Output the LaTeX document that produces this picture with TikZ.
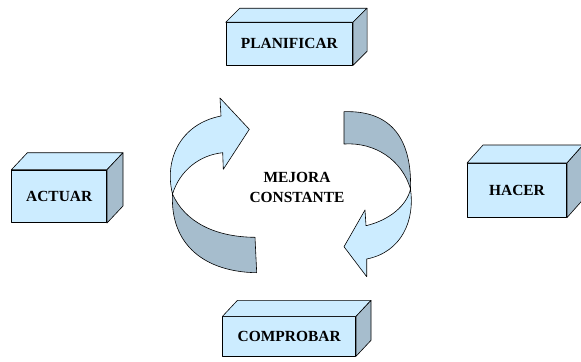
\documentclass[tikz,border=0pt]{standalone}
\usepackage{fontspec}
\setmainfont{Liberation Serif}
\usetikzlibrary{calc}
\definecolor{lightb}{HTML}{CCECFF}
\definecolor{darkb}{HTML}{A6BDCD}
\newcommand\cubefaces[3]{%
  \draw[topface] (#1.north west) -- ++(#2,#3) -- ($(#1.north east)+(#2,#3)$) -- (#1.north east) -- cycle;
  \draw[sideface] (#1.north east) -- ++(#2,#3) -- ($(#1.south east)+(#2,#3)$) -- (#1.south east) -- cycle;}
\begin{document}
\begin{tikzpicture}[x=1bp,y=-1bp, line width=0.6pt, line join=round,
  txt/.style={font=\fontsize{15.5}{19.6}\selectfont\bfseries},
  box/.style={draw, fill=lightb, inner sep=0pt, txt},
  topface/.style={draw, fill=lightb},
  sideface/.style={draw, fill=darkb},
  ribbonlight/.style={draw, fill=lightb},
  ribbondark/.style={draw, fill=darkb}]
\useasboundingbox (0,0) rectangle (581,361);

% boxes
\node[box, minimum width=126.7bp, minimum height=42.5bp] (plan) at (289.4,43.75) {PLANIFICAR};
\cubefaces{plan}{14}{-14}
\node[box, minimum width=95bp, minimum height=52.7bp] (act) at (59.2,196.35) {ACTUAR};
\cubefaces{act}{16}{-17}
\node[box, minimum width=99.4bp, minimum height=54bp] (hac) at (517,190.3) {HACER};
\cubefaces{hac}{16}{-18}
\node[box, minimum width=133bp, minimum height=39.3bp] (comp) at (289.2,336.35) {COMPROBAR};
\cubefaces{comp}{15}{-16}

% left ribbon arrow
\coordinate (LT) at (172.5,194);
\draw[ribbondark] (LT) .. controls (185,222) and (215,237) .. (255,237.3)
  -- (256.7,272.7) .. controls (205,272) and (170,245) .. (LT) -- cycle;
\draw[ribbonlight] (221,116) -- (220,98) -- (249.3,129.3) -- (223.3,169.3) -- (222.7,152.7)
  .. controls (200,155) and (180,170) .. (LT)
  .. controls (164,160) and (180,124) .. (221,116) -- cycle;

% right ribbon arrow
\coordinate (RT) at (410.5,189);
\draw[ribbondark] (344,111.7) .. controls (392,110) and (412,140) .. (RT)
  .. controls (402,160) and (375,142) .. (344,144) -- cycle;
\draw[ribbonlight] (RT) .. controls (415,220) and (402,252) .. (366.7,259)
  -- (366.7,276.7) -- (344,246.7) -- (365,210) -- (366,225.7)
  .. controls (390,220) and (407,205) .. (RT) -- cycle;

% centre text
\node[txt, align=center, inner sep=0pt] (mc) at (297,187.5) {MEJORA\\CONSTANTE};
\end{tikzpicture}
\end{document}
